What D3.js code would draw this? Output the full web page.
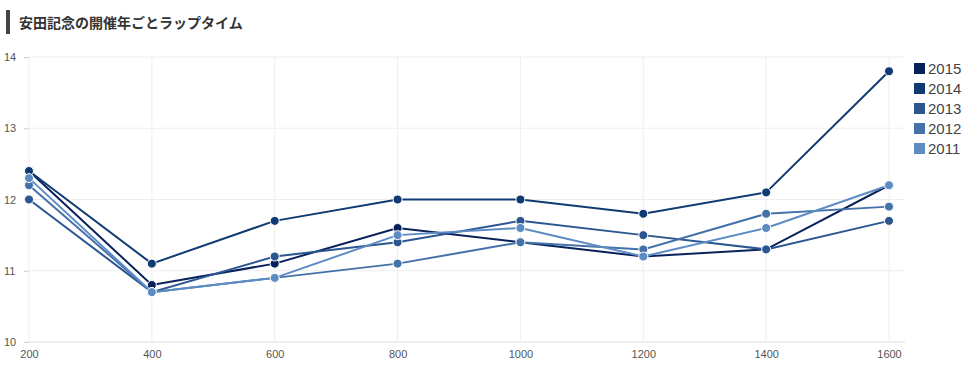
<!DOCTYPE html>
<html>
<head>
<meta charset="UTF-8">
<style>
  body { margin: 0; background: #fff; font-family: "Liberation Sans", Arial, sans-serif; }
  .title { position: absolute; left: 6px; top: 10px; height: 24px; border-left: 4px solid #444; padding-left: 9px;
           font-family: "Noto Sans CJK JP", sans-serif; font-weight: bold; font-size: 14px; line-height: 24px; color: #333; }
</style>
</head>
<body>
<div class="title">安田記念の開催年ごとラップタイム</div>
<svg></svg>
<script src="https://d3js.org/d3.v7.min.js"></script>
<script>
let width = 977, height = 386;
let svg = d3.select("svg").attr("width", width).attr("height", height)
  .style("position", "absolute").style("left", 0).style("top", 0);

// distances (m)
const distances = [200, 400, 600, 800, 1000, 1200, 1400, 1600];
const years = ["2015", "2014", "2013", "2012", "2011"];
const colors = ["#08215a", "#0f3b72", "#2b5690", "#4571a9", "#5d8cc5"];

const lap2015 = [12.4, 10.8, 11.1, 11.6, 11.4, 11.2, 11.3, 12.2];
const lap2014 = [12.4, 11.1, 11.7, 12.0, 12.0, 11.8, 12.1, 13.8];
const lap2013 = [12.0, 10.7, 11.2, 11.4, 11.7, 11.5, 11.3, 11.7];
const lap2012 = [12.2, 10.7, 10.9, 11.1, 11.4, 11.3, 11.8, 11.9];
const lap2011 = [12.3, 10.7, 10.9, 11.5, 11.6, 11.2, 11.6, 12.2];
const laps = [lap2015, lap2014, lap2013, lap2012, lap2011];

const yTicks = [10, 11, 12, 13, 14];

let x = d3.scaleLinear().domain([200, 1600]).range([29, 889]);
let y = d3.scaleLinear().domain([10, 14]).range([342, 57]);
let plotRight = 905;

// grid
let grid = svg.append("g");
grid.selectAll("line.h").data(yTicks).enter().append("line")
  .attr("x1", x(200)).attr("x2", plotRight)
  .attr("y1", d => y(d)).attr("y2", d => y(d))
  .attr("stroke", d => d == 10 ? "#ddd" : "#eee").attr("stroke-width", 1);
grid.selectAll("line.v").data(distances).enter().append("line")
  .attr("x1", d => x(d)).attr("x2", d => x(d))
  .attr("y1", y(14)).attr("y2", y(10))
  .attr("stroke", "#eee").attr("stroke-width", 1);

// y axis
let yAxis = svg.append("g").attr("transform", "translate(" + x(200) + ",0)")
  .call(d3.axisLeft(y).tickValues(yTicks).tickFormat(d3.format("d")).tickSize(5).tickPadding(3));
yAxis.select(".domain").remove();
yAxis.selectAll(".tick line").attr("stroke", "#ccc");
yAxis.selectAll("text").attr("fill", "#555").style("font-size", "11px")
  .attr("text-anchor", "start").attr("x", -25);

// x axis
let xAxis = svg.append("g").attr("transform", "translate(0," + y(10) + ")")
  .call(d3.axisBottom(x).tickValues(distances).tickFormat(d3.format("d")).tickSize(0).tickPadding(8));
xAxis.select(".domain").remove();
xAxis.selectAll("text").attr("fill", "#555").style("font-size", "11px");

// series
let line = d3.line().x((d, i) => x(distances[i])).y(d => y(d));
laps.forEach((vals, k) => {
  let g = svg.append("g");
  g.append("path").datum(vals).attr("d", line)
    .attr("fill", "none").attr("stroke", colors[k]).attr("stroke-width", 2);
  g.selectAll("circle").data(vals).enter().append("circle")
    .attr("cx", (d, i) => x(distances[i])).attr("cy", d => y(d)).attr("r", 4.5)
    .attr("fill", colors[k]).attr("stroke", "#fff").attr("stroke-width", 1);
});

// legend
let legend = svg.append("g");
years.forEach((yr, k) => {
  legend.append("rect").attr("x", 914).attr("y", 63 + k * 20).attr("width", 11).attr("height", 11)
    .attr("fill", colors[k]);
  legend.append("text").attr("x", 928).attr("y", 74 + k * 20).text(yr)
    .style("font-size", "15px").attr("fill", "#444");
});
</script>
</body>
</html>
